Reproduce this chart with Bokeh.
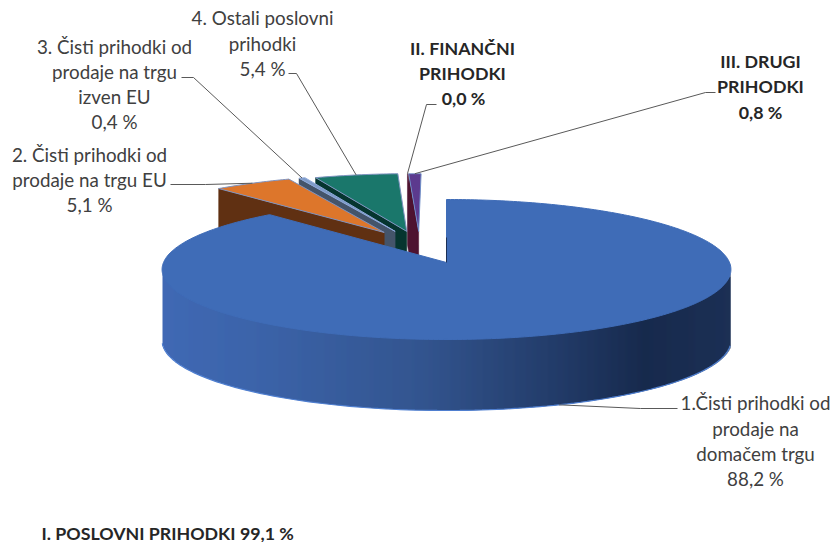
import numpy as np
from bokeh.plotting import figure
from bokeh.models import Range1d
from bokeh.core.properties import value
from bokeh.embed import file_html
from bokeh.resources import INLINE

categories = ["1.Čisti prihodki od prodaje na domačem trgu",
              "2. Čisti prihodki od prodaje na trgu EU",
              "3. Čisti prihodki od prodaje na trgu izven EU",
              "4. Ostali poslovni prihodki",
              "II. FINANČNI PRIHODKI",
              "III. DRUGI PRIHODKI"]
shares = [88.2, 5.1, 0.4, 5.4, 0.0, 0.8]
top_colors = ["#3F6CB7", "#DD762B", "#7F9BC8", "#1A776B", "#5A1A3A", "#5C3A8E"]
side_colors = ["#33558F", "#603012", "#44546A", "#06352F", "#4E1330", "#4E1330"]
edge_colors = ["#4472C4", "#7F93C0", "#8FAADC", "#7F93C0", "#5B7FC4", "#6F8FC8"]
# plane offsets of the exploded slices (first one stays in place)
offset_x = [0.0, -0.23, -0.19, -0.147, -0.108, -0.103]
offset_y = [0.0, 0.453, 0.47, 0.47, 0.47, 0.47]

CX, CY, RX, RY, PERSP, DEPTH = 446.0, 262.0, 283.0, 69.3, 0.1, 71.0
GRAD_X = [162, 250, 420, 560, 644, 732]
GRAD_C = [(0x40, 0x69, 0xB4), (0x3C, 0x64, 0xAA), (0x33, 0x55, 0x8F),
          (0x22, 0x3B, 0x68), (0x17, 0x2A, 0x4D), (0x1C, 0x30, 0x55)]


def project(X, Y):
    k = 1.0 / (1.0 + PERSP * Y)
    return CX + X * RX * k, CY - Y * RY * k


def rim(a0, a1, ox, oy, n):
    a = np.radians(np.linspace(a0, a1, n))
    return project(np.sin(a) + ox, np.cos(a) + oy)


p = figure(width=830, height=542, output_backend="svg", toolbar_location=None,
           x_range=Range1d(0, 830), y_range=Range1d(542, 0),
           min_border=0, outline_line_color=None, background_fill_color="white",
           border_fill_color="white")
p.axis.visible = False
p.grid.visible = False

total = sum(shares)
edges = np.concatenate([[0.0], np.cumsum(shares)]) / total * 360.0
anchors = {}

# exploded slices, back to front (the rightmost lies behind its neighbours)
for i in range(len(shares) - 1, 0, -1):
    a0, a1 = edges[i], edges[i + 1]
    ox, oy = offset_x[i], offset_y[i]
    tx, ty = project(ox, oy)
    rx_, ry_ = rim(a0, a1, ox, oy, 24)
    # cut face along the leading radius
    p.patch([rx_[0], tx, tx, rx_[0]], [ry_[0], ty, ty + DEPTH, ry_[0] + DEPTH],
            fill_color=side_colors[i], line_color=side_colors[i], line_width=0.5)
    if a1 > a0:
        p.patch(np.r_[tx, rx_], np.r_[ty, ry_], fill_color=top_colors[i],
                line_color=edge_colors[i], line_width=1.0)
    m = np.radians((a0 + a1) / 2)
    anchors[i] = project(np.sin(m) + ox, np.cos(m) + oy)

# big slice: side wall as overlapping columns carrying the shading, then its top
xs_all, ys_all = rim(45, 315, 0, 0, 2701)
i_r, i_l = int(np.argmax(xs_all)), int(np.argmin(xs_all))
xf, yf = xs_all[i_r:i_l + 1][::-1], ys_all[i_r:i_l + 1][::-1]
cols = np.arange(np.ceil(xf[0]), np.floor(xf[-1]))
mid = cols + 0.5
col_top = np.interp(mid, xf, yf)
col_colors = ["#%02X%02X%02X" % tuple(int(round(np.interp(m_, GRAD_X, [g[ch] for g in GRAD_C])))
                                      for ch in range(3)) for m_ in mid]
p.quad(left=cols, right=np.minimum(cols + 2, cols[-1] + 1), top=col_top - 1, bottom=col_top + DEPTH,
       fill_color=col_colors, fill_alpha=1.0, line_color=None)
bx, by = rim(100, 262, 0, 0, 120)
p.line(bx, by + DEPTH, line_color="#4F7FD0", line_width=1.2)

rx0, ry0 = rim(edges[0], edges[1], 0, 0, 360)
p.patch(np.r_[CX, rx0], np.r_[CY, ry0], fill_color=top_colors[0],
        line_color=top_colors[0], line_width=1.0)
p.line([CX, CX], [CY - 25, CY], line_color="#1B2F55", line_width=1.0)

# leader lines, from the label elbow to the middle of each slice's outer edge
m0 = np.radians((edges[0] + edges[1]) / 2)
bx0, by0 = project(np.sin(m0), np.cos(m0))
elbows = [[(677, 408), (640, 408)], [(170, 184), (205, 184)], [(181, 77), (193, 77)],
          [(288, 73), (296, 73)], [(436, 104), (426, 104)], [(715, 92), (705, 92)]]
ends = [(bx0, by0 + DEPTH)] + [anchors[i] for i in range(1, len(shares))]
for el, en in zip(elbows, ends):
    p.line([el[0][0], el[1][0], en[0]], [el[0][1], el[1][1], en[1]],
           line_color="#595959", line_width=1.0)

# labels
plain = [("1.Čisti prihodki od", 755, 402), ("prodaje na", 755, 428),
         ("domačem trgu", 755, 453), ("88,2 %", 755, 478),
         ("2. Čisti prihodki od", 89, 154), ("prodaje na trgu EU", 89, 179), ("5,1 %", 89, 204),
         ("3. Čisti prihodki od", 114, 46), ("prodaje na trgu", 114, 71),
         ("izven EU", 114, 96), ("0,4 %", 114, 121),
         ("4. Ostali poslovni", 262, 17), ("prihodki", 262, 43), ("5,4 %", 262, 68)]
bold = [("II. FINANČNI", 462, 47), ("PRIHODKI", 462, 72), ("0,0 %", 463, 97),
        ("III. DRUGI", 760, 60), ("PRIHODKI", 760, 85), ("0,8 %", 760, 111)]
p.text([t[1] for t in plain], [t[2] for t in plain], text=[t[0] for t in plain],
       text_font=value("Lato"), text_font_size="18.8px", text_color="#404040",
       text_align="center", text_baseline="middle")
p.text([t[1] for t in bold], [t[2] for t in bold], text=[t[0] for t in bold],
       text_font=value("Lato"), text_font_size="17.8px", text_font_style="bold",
       text_color="#262626", text_align="center", text_baseline="middle")
p.text([41], [532], text=["I. POSLOVNI PRIHODKI 99,1 %"],
       text_font=value("Lato"), text_font_size="17.8px", text_font_style="bold",
       text_color="#262626", text_align="left", text_baseline="middle")

open("out.html", "w").write(file_html(p, INLINE))
